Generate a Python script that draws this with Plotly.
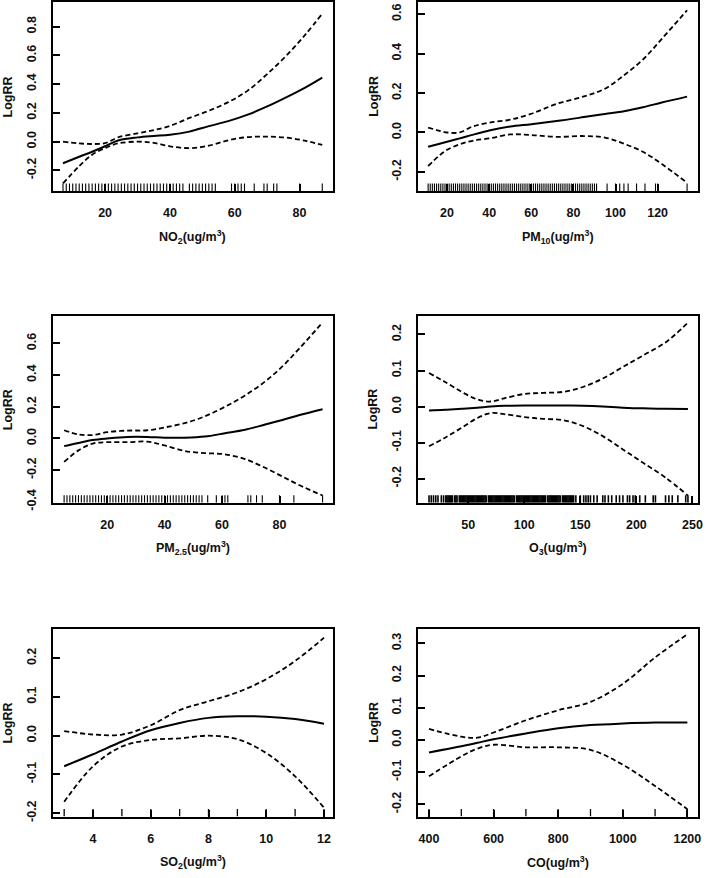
import plotly.graph_objects as go

W, H = 708, 878

# ---- values (exposure-response curves) ----
no2_x = [7, 12, 16, 20, 24, 30, 35, 40, 46, 52, 58, 64, 70, 76, 82, 87]
no2_fit = [-0.15, -0.105, -0.07, -0.032, 0.008, 0.03, 0.04, 0.048, 0.07, 0.108, 0.143, 0.188, 0.245, 0.31, 0.38, 0.446]
no2_up = [0.0, -0.012, -0.016, -0.01, 0.03, 0.058, 0.08, 0.11, 0.165, 0.215, 0.275, 0.355, 0.47, 0.6, 0.75, 0.89]
no2_low = [-0.29, -0.17, -0.09, -0.045, -0.012, 0.0, -0.008, -0.032, -0.045, -0.028, 0.01, 0.032, 0.035, 0.028, 0.005, -0.023]
no2_rug = [7, 8, 9, 10, 11, 12, 13, 14, 15, 16, 17, 18, 19, 20, 21, 22, 23, 24, 25, 26,
           27, 28, 29, 30, 31, 32, 33, 34, 35, 36, 37, 38, 39, 40, 41, 42, 43, 44,
           46, 47, 48, 49, 50, 51, 52, 53, 54, 59, 60, 61, 62, 63, 66, 69, 70, 72, 73, 80, 87]

pm10_x = [11, 16, 20, 26, 32, 40, 50, 60, 72, 85, 95, 104, 113, 122, 134]
pm10_fit = [-0.072, -0.058, -0.047, -0.03, -0.012, 0.01, 0.03, 0.042, 0.058, 0.078, 0.094, 0.108, 0.128, 0.152, 0.182]
pm10_up = [0.025, 0.01, 0.0, 0.0, 0.03, 0.05, 0.065, 0.095, 0.145, 0.183, 0.222, 0.29, 0.37, 0.475, 0.62]
pm10_low = [-0.17, -0.12, -0.088, -0.06, -0.042, -0.03, -0.01, -0.013, -0.022, -0.018, -0.026, -0.057, -0.098, -0.16, -0.255]
pm10_rug = [11, 12, 13, 14, 15, 16, 17, 18, 19, 20, 21, 22, 23, 24, 25, 26, 27, 28, 29, 30,
            31, 32, 33, 34, 35, 36, 37, 38, 39, 40, 41, 42, 43, 44, 45, 46, 47, 48, 49, 50,
            51, 52, 53, 54, 55, 56, 57, 58, 59, 60, 61, 62, 63, 64, 65, 66, 67, 68, 69, 70,
            71, 72, 73, 74, 75, 76, 77, 78, 79, 80, 81, 82, 83, 84, 85, 86, 87, 88, 89, 90,
            91, 96, 100, 102, 104, 106, 110, 114, 119, 120, 134]

pm25_x = [5, 10, 15, 20, 27, 34, 40, 47, 54, 61, 68, 75, 81, 87, 95]
pm25_fit = [-0.048, -0.028, -0.01, 0.0, 0.01, 0.01, 0.005, 0.005, 0.012, 0.033, 0.055, 0.088, 0.117, 0.148, 0.185]
pm25_up = [0.052, 0.026, 0.022, 0.04, 0.05, 0.052, 0.07, 0.097, 0.14, 0.2, 0.272, 0.36, 0.455, 0.57, 0.733]
pm25_low = [-0.148, -0.075, -0.032, -0.023, -0.023, -0.02, -0.044, -0.079, -0.092, -0.1, -0.13, -0.185, -0.24, -0.295, -0.36]
pm25_rug = [5, 6, 7, 8, 9, 10, 11, 12, 13, 14, 15, 16, 17, 18, 19, 20, 21, 22, 23, 24,
            25, 26, 27, 28, 29, 30, 31, 32, 33, 34, 35, 36, 37, 38, 39, 40, 41, 42, 43, 44,
            45, 46, 47, 48, 49, 50, 51, 52, 53, 55, 58, 60, 61, 62, 69, 70, 72, 74, 80, 85, 95]

o3_x = [15, 29, 44, 58, 70, 82, 100, 117, 135, 153, 170, 188, 206, 226, 246]
o3_fit = [-0.011, -0.009, -0.006, -0.003, 0.0, 0.002, 0.003, 0.003, 0.003, 0.002, 0.0, -0.003, -0.005, -0.006, -0.007]
o3_up = [0.093, 0.069, 0.041, 0.02, 0.014, 0.023, 0.035, 0.038, 0.041, 0.055, 0.078, 0.11, 0.142, 0.178, 0.233]
o3_low = [-0.11, -0.087, -0.059, -0.032, -0.018, -0.021, -0.029, -0.034, -0.038, -0.055, -0.082, -0.119, -0.156, -0.197, -0.247]
o3_rug = [15, 17, 19, 21, 23, 26, 28, 30, 31, 32, 33, 34, 35, 36, 38, 39, 40,
          42, 43, 44, 45, 46, 47, 48, 49, 50, 51, 52, 53, 54, 55, 56, 57, 58, 59, 60,
          61, 62, 63, 64, 65, 66, 68, 69, 70, 71, 72, 73, 74, 75, 76, 77, 78, 79, 80,
          81, 82, 83, 84, 85, 86, 87, 88, 89, 90, 91, 93, 94, 95, 96, 97, 98, 99, 100,
          101, 102, 103, 104, 105, 106, 107, 108, 109, 110, 111, 112, 113, 114, 115, 116,
          117, 118, 119, 121, 122, 123, 124, 125, 126, 127, 128, 129, 130, 131, 132,
          134, 135, 136, 137, 138, 139, 140, 141, 142, 143, 144,
          146, 150, 153, 155, 157, 159, 162, 165, 170, 172, 175, 178, 182, 185, 188,
          192, 194, 197, 199, 203, 208, 215, 217, 226, 229, 232, 237, 244, 246]

so2_x = [3, 4, 5, 6, 7, 8, 9, 10, 11, 12]
so2_fit = [-0.079, -0.048, -0.015, 0.014, 0.033, 0.046, 0.05, 0.049, 0.043, 0.031]
so2_up = [0.012, 0.003, 0.003, 0.027, 0.066, 0.089, 0.112, 0.146, 0.193, 0.253]
so2_low = [-0.171, -0.079, -0.028, -0.011, -0.007, 0.0, -0.009, -0.045, -0.105, -0.186]
so2_rug = [3, 4, 5, 6, 7, 8, 9, 10, 11, 12]

co_x = [400, 500, 550, 600, 700, 800, 900, 1000, 1100, 1200]
co_fit = [-0.039, -0.02, -0.009, 0.002, 0.02, 0.036, 0.046, 0.051, 0.054, 0.054]
co_up = [0.034, 0.01, 0.007, 0.023, 0.061, 0.092, 0.118, 0.174, 0.256, 0.328]
co_low = [-0.113, -0.051, -0.027, -0.015, -0.023, -0.023, -0.031, -0.077, -0.143, -0.215]
co_rug = [400, 500, 600, 700, 800, 900, 1000, 1100, 1200]

# tick labels
no2_xt = [20, 40, 60, 80]
no2_yt = ["-0.2", "0.0", "0.2", "0.4", "0.6", "0.8"]
pm10_xt = [20, 40, 60, 80, 100, 120]
pm10_yt = ["-0.2", "0.0", "0.2", "0.4", "0.6"]
pm25_xt = [20, 40, 60, 80]
pm25_yt = ["-0.4", "-0.2", "0.0", "0.2", "0.4", "0.6"]
o3_xt = [50, 100, 150, 200, 250]
o3_yt = ["-0.2", "-0.1", "0.0", "0.1", "0.2"]
so2_xt = [4, 6, 8, 10, 12]
so2_yt = ["-0.2", "-0.1", "0.0", "0.1", "0.2"]
co_xt = [400, 600, 800, 1000, 1200]
co_yt = ["-0.2", "-0.1", "0.0", "0.1", "0.2", "0.3"]

# panel layout: box in pixels (left, top, right, bottom), axis ranges
panels = [
    dict(x=no2_x, fit=no2_fit, up=no2_up, low=no2_low, rug=no2_rug, xt=no2_xt, yt=no2_yt,
         box=(53, 1, 335, 192), xr=[3.8, 90.2], yr=[-0.343, 0.971], rugw=1.1,
         title="NO<sub>2</sub>(ug/m<sup>3</sup>)"),
    dict(x=pm10_x, fit=pm10_fit, up=pm10_up, low=pm10_low, rug=pm10_rug, xt=pm10_xt, yt=pm10_yt,
         box=(421, 1, 703, 192), xr=[6.2, 139.2], yr=[-0.297, 0.662], rugw=1.1,
         title="PM<sub>10</sub>(ug/m<sup>3</sup>)"),
    dict(x=pm25_x, fit=pm25_fit, up=pm25_up, low=pm25_low, rug=pm25_rug, xt=pm25_xt, yt=pm25_yt,
         box=(53, 318, 335, 507), xr=[1.0, 98.5], yr=[-0.406, 0.775], rugw=1.1,
         title="PM<sub>2.5</sub>(ug/m<sup>3</sup>)"),
    dict(x=o3_x, fit=o3_fit, up=o3_up, low=o3_low, rug=o3_rug, xt=o3_xt, yt=o3_yt,
         box=(421, 318, 703, 507), xr=[5.2, 255], yr=[-0.267, 0.252], rugw=1.6,
         title="O<sub>3</sub>(ug/m<sup>3</sup>)"),
    dict(x=so2_x, fit=so2_fit, up=so2_up, low=so2_low, rug=so2_rug, xt=so2_xt, yt=so2_yt,
         box=(53, 634, 335, 824), xr=[2.6, 12.3], yr=[-0.209, 0.277], rugw=1.3,
         title="SO<sub>2</sub>(ug/m<sup>3</sup>)"),
    dict(x=co_x, fit=co_fit, up=co_up, low=co_low, rug=co_rug, xt=co_xt, yt=co_yt,
         box=(421, 634, 703, 824), xr=[366, 1233], yr=[-0.238, 0.346], rugw=1.3,
         title="CO(ug/m<sup>3</sup>)"),
]

FONT = "Liberation Sans, Arial, sans-serif"
tickfont = dict(family=FONT, size=12.5, color="#111", weight="bold")

fig = go.Figure()
annotations = []
layout = {}

for i, p in enumerate(panels):
    n = "" if i == 0 else str(i + 1)
    xa, ya = "x" + n, "y" + n
    left, top, right, bottom = p["box"]

    # rug along the bottom of the panel
    y0 = p["yr"][0]
    y1 = y0 + 0.04 * (p["yr"][1] - p["yr"][0])
    rx, ry = [], []
    for v in p["rug"]:
        rx += [v, v, None]
        ry += [y0, y1, None]
    fig.add_trace(go.Scatter(x=rx, y=ry, mode="lines", xaxis=xa, yaxis=ya,
                             line=dict(color="black", width=p["rugw"]), hoverinfo="skip"))

    for key, dash, w in [("up", "5px,3px", 1.8), ("low", "5px,3px", 1.8), ("fit", "solid", 2)]:
        fig.add_trace(go.Scatter(x=p["x"], y=p[key], mode="lines", xaxis=xa, yaxis=ya,
                                 line=dict(color="black", width=w, dash=dash,
                                           shape="spline", smoothing=1.0)))

    yvals = [float(t) for t in p["yt"]]
    common = dict(showline=True, mirror=True, linecolor="black", linewidth=2,
                  ticks="inside", ticklen=7, tickwidth=1.5, tickcolor="black",
                  showgrid=False, zeroline=False, tickfont=tickfont)
    layout["xaxis" + n] = dict(domain=[left / W, right / W], range=p["xr"], anchor=ya,
                               tickvals=p["xt"], ticktext=[str(t) for t in p["xt"]],
                               ticklabelstandoff=9, **common)
    layout["yaxis" + n] = dict(domain=[1 - bottom / H, 1 - top / H], range=p["yr"], anchor=xa,
                               tickvals=yvals, ticktext=p["yt"], tickangle=-90,
                               ticklabelstandoff=10, **common)

    annotations.append(dict(x=(left + right) / 2 / W, y=1 - (bottom + 46) / H,
                            xref="paper", yref="paper", text=p["title"], showarrow=False,
                            xanchor="center", yanchor="middle",
                            font=dict(family=FONT, size=12.5, color="#111", weight="bold")))
    annotations.append(dict(x=(left - 45) / W, y=1 - (top + bottom) / 2 / H,
                            xref="paper", yref="paper", text="LogRR", showarrow=False,
                            textangle=-90, xanchor="center", yanchor="middle",
                            font=dict(family=FONT, size=12.5, color="#111", weight="bold")))

fig.update_layout(width=W, height=H, margin=dict(l=0, r=0, t=0, b=0),
                  paper_bgcolor="white", plot_bgcolor="white", showlegend=False,
                  annotations=annotations, **layout)

# drop the default page margin so the figure sits at the window's corner
fig.write_html("out.html", config={"displayModeBar": False},
               post_script="document.body.style.margin='0';")
